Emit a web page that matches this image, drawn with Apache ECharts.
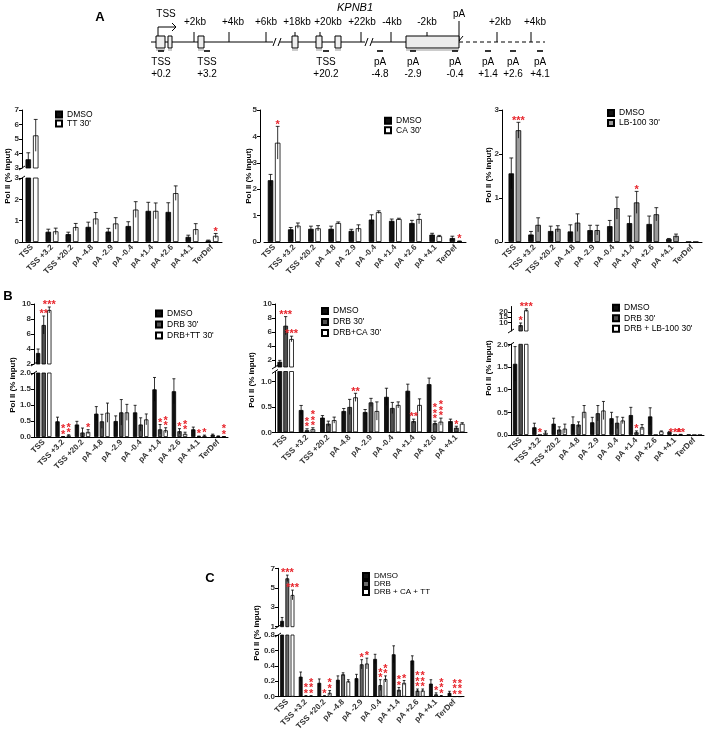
<!DOCTYPE html>
<html>
<head>
<meta charset="utf-8">
<script src="https://cdn.jsdelivr.net/npm/echarts@6.0.0/dist/echarts.min.js"></script>
<style>
  * { margin: 0; padding: 0; }
  #main { width: 708px; height: 733px; background: #fff; }
</style>
</head>
<body>
<div id="main"></div>
<script>
var FONT = '"Liberation Sans", Arial, sans-serif';

// amplicons
var cats = ['TSS', 'TSS +3.2', 'TSS +20.2', 'pA -4.8', 'pA -2.9', 'pA -0.4', 'pA +1.4', 'pA +2.6', 'pA +4.1', 'TerDef'];
var cats9 = cats.slice(0, 9);
var none = ['', '', '', '', '', '', '', '', '', ''];

// A: DMSO vs TT
var a1Dmso = [3.6, 0.48, 0.37, 0.71, 0.49, 0.75, 1.46, 1.41, 0.24, 0.07];
var a1DmsoSem = [0.45, 0.12, 0.09, 0.22, 0.15, 0.2, 0.4, 0.43, 0.08, 0.02];
var a1Tt = [5.25, 0.5, 0.7, 1.1, 0.87, 1.52, 1.46, 2.29, 0.6, 0.29];
var a1TtSem = [1.1, 0.15, 0.17, 0.28, 0.27, 0.37, 0.37, 0.34, 0.26, 0.11];
var a1TtSig = ['', '', '', '', '', '', '', '', '', '*'];

// A: DMSO vs CA
var a2Dmso = [2.34, 0.48, 0.5, 0.5, 0.42, 0.85, 0.8, 0.72, 0.28, 0.15];
var a2DmsoSem = [0.22, 0.07, 0.1, 0.1, 0.06, 0.18, 0.07, 0.1, 0.05, 0.07];
var a2Ca = [3.76, 0.62, 0.52, 0.72, 0.52, 1.13, 0.87, 0.87, 0.22, 0.03];
var a2CaSem = [0.62, 0.1, 0.1, 0.04, 0.13, 0.05, 0.03, 0.18, 0.03, 0.01];
var a2CaSig = ['*', '', '', '', '', '', '', '', '', '*'];

// A: DMSO vs LB-100
var a3Dmso = [1.56, 0.17, 0.25, 0.24, 0.27, 0.36, 0.43, 0.41, 0.07, 0.005];
var a3DmsoSem = [0.35, 0.07, 0.11, 0.15, 0.11, 0.13, 0.16, 0.18, 0.01, 0];
var a3Lb = [2.54, 0.39, 0.3, 0.44, 0.27, 0.77, 0.9, 0.63, 0.14, 0.003];
var a3LbSem = [0.18, 0.16, 0.07, 0.2, 0.11, 0.25, 0.25, 0.15, 0.04, 0];
var a3LbSig = ['***', '', '', '', '', '', '*', '', '', ''];

// B: DMSO / DRB / DRB+TT
var b1Dmso = [3.47, 0.49, 0.39, 0.73, 0.5, 0.77, 1.49, 1.43, 0.24, 0.07];
var b1DmsoSem = [0.53, 0.13, 0.1, 0.22, 0.16, 0.22, 0.37, 0.39, 0.07, 0.02];
var b1Drb = [7.2, 0.01, 0.14, 0.49, 0.77, 0.39, 0.24, 0.18, 0.02, 0.03];
var b1DrbSem = [1.2, 0.005, 0.14, 0.22, 0.4, 0.21, 0.15, 0.08, 0.01, 0.005];
var b1Tt = [9.2, 0.05, 0.16, 0.76, 0.77, 0.55, 0.21, 0.1, 0.04, 0.01];
var b1TtSem = [0.4, 0.02, 0.07, 0.3, 0.25, 0.17, 0.08, 0.05, 0.02, 0.005];
var b1DrbSig = ['**', '*\n*', '', '', '', '', '*', '*', '*', ''];
var b1TtSig = ['***', '*\n*', '*', '', '', '', '*\n*', '*\n*', '*', '*\n*'];

// B: DMSO / DRB / DRB+CA
var b2Dmso = [1.75, 0.44, 0.29, 0.42, 0.4, 0.7, 0.82, 0.95, 0.22];
var b2DmsoSem = [0.2, 0.09, 0.04, 0.05, 0.05, 0.17, 0.13, 0.12, 0.04];
var b2Drb = [6.9, 0.04, 0.17, 0.5, 0.59, 0.48, 0.22, 0.18, 0.09];
var b2DrbSem = [1.3, 0.03, 0.05, 0.15, 0.08, 0.11, 0.04, 0.04, 0.03];
var b2Ca = [5.0, 0.06, 0.24, 0.69, 0.42, 0.54, 0.54, 0.21, 0.17];
var b2CaSem = [0.4, 0.03, 0.06, 0.08, 0.18, 0.06, 0.12, 0.07, 0.02];
var b2DrbSig = ['***', '*\n*', '', '', '', '', '**', '*\n*\n*', '*'];
var b2CaSig = ['***', '*\n*\n*', '', '**', '', '', '', '*\n*\n*', ''];

// B: DMSO / DRB / DRB+LB-100
var b3Dmso = [1.57, 0.17, 0.25, 0.24, 0.28, 0.37, 0.44, 0.41, 0.07, 0.01];
var b3DmsoSem = [0.38, 0.09, 0.12, 0.16, 0.11, 0.13, 0.17, 0.19, 0.01, 0];
var b3Drb = [7.5, 0.003, 0.12, 0.23, 0.48, 0.27, 0.06, 0.002, 0.005, 0.001];
var b3DrbSem = [2, 0, 0.06, 0.06, 0.17, 0.13, 0.03, 0, 0, 0];
var b3Lb = [21.5, 0.05, 0.14, 0.51, 0.54, 0.32, 0.17, 0.08, 0.01, 0.002];
var b3LbSem = [1.3, 0.04, 0.1, 0.14, 0.2, 0.07, 0.06, 0.01, 0.005, 0];
var b3DrbSig = ['*', '*', '', '', '', '', '*', '', '***', ''];
var b3LbSig = ['***', '', '', '', '', '', '', '', '**', ''];

// C: DMSO / DRB / DRB+CA+TT
var cDmso = [1.6, 0.26, 0.18, 0.22, 0.24, 0.49, 0.55, 0.47, 0.17, 0.05];
var cDmsoSem = [0.35, 0.06, 0.05, 0.05, 0.05, 0.06, 0.11, 0.06, 0.05, 0.02];
var cDrb = [5.97, 0.01, 0.01, 0.29, 0.42, 0.15, 0.09, 0.08, 0.03, 0.003];
var cDrbSem = [0.33, 0.003, 0.003, 0.02, 0.06, 0.07, 0.03, 0.02, 0.02, 0];
var cMix = [4.26, 0.01, 0.05, 0.2, 0.43, 0.23, 0.18, 0.08, 0.01, 0.003];
var cMixSem = [0.5, 0.003, 0.03, 0.02, 0.07, 0.04, 0.03, 0.02, 0.005, 0];
var cDrbSig = ['***', '*\n*', '*', '', '*', '*\n*', '*\n*', '*\n*\n*', '*', '*\n*\n*'];
var cMixSig = ['***', '*\n*\n*', '*\n*', '', '*', '*\n*', '*', '*\n*\n*', '*\n*\n*', '*\n*\n*'];

// gene schematic labels
var geneTopText = ['+2kb', '+4kb', '+6kb', '+18kb', '+20kb', '+22kb', '-4kb', '-2kb', '+2kb', '+4kb'];
var geneTopX = [195, 233, 266, 297, 328, 362, 392, 427, 500, 535];
var geneTickX = [194, 229, 266, 295, 320, 361, 391, 427, 497, 531];
var geneRow1 = ['TSS', 'TSS', 'TSS', 'pA', 'pA', 'pA', 'pA', 'pA', 'pA'];
var geneRow2 = ['+0.2', '+3.2', '+20.2', '-4.8', '-2.9', '-0.4', '+1.4', '+2.6', '+4.1'];
var geneAmpX = [161, 207, 326, 380, 413, 455, 488, 513, 540];
var geneExons = [[156, 165], [168, 172], [198, 204], [292, 298], [316, 322], [335, 341]];

var option = {
  animation: false,
  backgroundColor: '#fff',
  textStyle: { fontFamily: FONT },
  grid: [], xAxis: [], yAxis: [], series: [], legend: [], graphic: []
};

function makeRender(p, k, s, part, lowMax, step) {
  var off = (s - (p.names.length - 1) / 2) * step;
  var sig = p.sigs[s];
  return function (params, api) {
    var v = api.value(1), e = api.value(2);
    var up = p.parts.length > 1 && v > lowMax;
    if ((k === 1) !== up) return null;
    var x = api.coord([api.value(0), v])[0] + off;
    var yTop = api.coord([0, v + e])[1];
    var yBot = api.coord([0, Math.max(v - e, part.min)])[1];
    var cap = p.barWidth * 0.35;
    var children = [];
    if (e > 0) {
      children.push({ type: 'line', shape: { x1: x, y1: yBot, x2: x, y2: yTop }, style: { stroke: '#000', lineWidth: 0.8 } });
      children.push({ type: 'line', shape: { x1: x - cap, y1: yTop, x2: x + cap, y2: yTop }, style: { stroke: '#000', lineWidth: 0.8 } });
    }
    var t = sig[params.dataIndex];
    if (t) {
      children.push({ type: 'text', x: x, y: yTop + 1, style: { text: t, fill: '#e8262d', font: 'bold 11px ' + FONT, align: 'center', verticalAlign: 'bottom', lineHeight: 5.5 } });
    }
    return { type: 'group', children: children };
  };
}

function addPanel(p) {
  var n = p.names.length;
  var lowMax = p.parts[0].max;
  var step = p.barWidth * (1 + p.barGap);
  p.parts.forEach(function (part, k) {
    var gi = option.grid.length;
    option.grid.push({ left: p.left, top: part.top, width: p.width, height: part.bottom - part.top, outerBoundsMode: 'none', containLabel: false });
    option.xAxis.push({
      gridIndex: gi, type: 'category', data: p.cats, show: k === 0,
      axisLine: { lineStyle: { color: '#000', width: 1 } },
      axisTick: { alignWithLabel: true, length: 3, lineStyle: { color: '#000' } },
      axisLabel: { interval: 0, rotate: 45, fontSize: 8, fontWeight: 'bold', color: '#333', margin: 4, fontFamily: FONT }
    });
    option.yAxis.push({
      gridIndex: gi, type: 'value', min: part.min, max: part.max, offset: p.yOffset || 0,
      splitLine: { show: false },
      axisLine: { show: true, lineStyle: { color: '#000', width: 1 } },
      axisTick: { show: true, length: 3, customValues: part.ticks, lineStyle: { color: '#000' } },
      axisLabel: {
        customValues: part.ticks, fontSize: 8, fontWeight: 'bold', color: '#333', margin: 3, fontFamily: FONT,
        formatter: function (v) { return Number(v).toFixed(part.dec); }
      }
    });
    for (var s = 0; s < n; s++) {
      option.series.push({
        type: 'bar', name: p.names[s], xAxisIndex: gi, yAxisIndex: gi,
        data: p.means[s].map(function (v) { return (k === 0 || v > lowMax) ? v : '-'; }),
        barWidth: p.barWidth, barGap: (p.barGap * 100) + '%', clip: true, silent: true,
        itemStyle: { color: p.colors[s], borderColor: '#000', borderWidth: 0.8 }
      });
    }
    for (var j = 0; j < n; j++) {
      option.series.push({
        type: 'custom', xAxisIndex: gi, yAxisIndex: gi, silent: true, clip: false, z: 5,
        data: p.means[j].map(function (v, i) { return [i, v, p.sems[j][i]]; }),
        renderItem: makeRender(p, k, j, part, lowMax, step)
      });
    }
  });
  option.legend.push({
    data: p.names, left: p.legend.left, top: p.legend.top, orient: 'vertical', padding: 0,
    itemWidth: 6, itemHeight: 6, itemGap: 0, icon: 'rect', selectedMode: false,
    textStyle: { fontSize: p.legend.size || 8.5, color: '#000', lineHeight: p.legend.row, fontFamily: FONT }
  });
  option.graphic.push({
    type: 'text', x: p.nameX, y: p.nameY, rotation: Math.PI / 2,
    style: { text: 'Pol II (% input)', font: 'bold 8px ' + FONT, fill: '#000', align: 'center', verticalAlign: 'middle' }
  });
  if (p.parts.length > 1) {
    var ax = p.left - (p.yOffset || 0);
    [p.parts[1].bottom, p.parts[0].top].forEach(function (y) {
      option.graphic.push({ type: 'line', shape: { x1: ax - 3, y1: y + 2, x2: ax + 3, y2: y - 2 }, style: { stroke: '#000', lineWidth: 1 } });
    });
  }
}

var panels = [
  { left: 22, width: 200, cats: cats, names: ['DMSO', "TT 30'"], means: [a1Dmso, a1Tt], sems: [a1DmsoSem, a1TtSem],
    sigs: [none, a1TtSig], colors: ['#111', '#fff'], barWidth: 5.5, barGap: 0.35,
    parts: [{ top: 178, bottom: 242, min: 0, max: 3, ticks: [0, 1, 2, 3], dec: 0 },
            { top: 110, bottom: 168, min: 3, max: 7, ticks: [3, 4, 5, 6, 7], dec: 0 }],
    legend: { left: 55, top: 110, row: 9 }, nameX: 8, nameY: 176 },
  { left: 264, width: 202, yOffset: 4, cats: cats, names: ['DMSO', "CA 30'"], means: [a2Dmso, a2Ca], sems: [a2DmsoSem, a2CaSem],
    sigs: [none, a2CaSig], colors: ['#111', '#fff'], barWidth: 5.5, barGap: 0.3,
    parts: [{ top: 110, bottom: 242, min: 0, max: 5, ticks: [0, 1, 2, 3, 4, 5], dec: 0 }],
    legend: { left: 384, top: 116, row: 9.5 }, nameX: 249, nameY: 176 },
  { left: 505, width: 197, yOffset: 3, cats: cats, names: ['DMSO', "LB-100 30'"], means: [a3Dmso, a3Lb], sems: [a3DmsoSem, a3LbSem],
    sigs: [none, a3LbSig], colors: ['#111', '#9a9a9a'], barWidth: 5.5, barGap: 0.3,
    parts: [{ top: 110, bottom: 242, min: 0, max: 3, ticks: [0, 1, 2, 3], dec: 0 }],
    legend: { left: 607, top: 108, row: 10 }, nameX: 489, nameY: 175 },
  { left: 34, width: 194, cats: cats, names: ['DMSO', "DRB 30'", "DRB+TT 30'"], means: [b1Dmso, b1Drb, b1Tt], sems: [b1DmsoSem, b1DrbSem, b1TtSem],
    sigs: [none, b1DrbSig, b1TtSig], colors: ['#111', '#505050', '#fff'], barWidth: 4.3, barGap: 0.3,
    parts: [{ top: 373, bottom: 437, min: 0, max: 2, ticks: [0, 0.5, 1, 1.5, 2], dec: 1 },
            { top: 304, bottom: 364, min: 2, max: 10, ticks: [2, 4, 6, 8, 10], dec: 0 }],
    legend: { left: 155, top: 308, row: 11 }, nameX: 13, nameY: 385 },
  { left: 275, width: 192, cats: cats9, names: ['DMSO', "DRB 30'", "DRB+CA 30'"], means: [b2Dmso, b2Drb, b2Ca], sems: [b2DmsoSem, b2DrbSem, b2CaSem],
    sigs: [none, b2DrbSig, b2CaSig], colors: ['#111', '#505050', '#fff'], barWidth: 4.7, barGap: 0.25,
    parts: [{ top: 371.5, bottom: 432.3, min: 0, max: 1.2, ticks: [0, 0.5, 1], dec: 1 },
            { top: 304, bottom: 367, min: 1, max: 10, ticks: [2, 4, 6, 8, 10], dec: 0 }],
    legend: { left: 321, top: 305.5, row: 11 }, nameX: 252, nameY: 380 },
  { left: 511, width: 193, cats: cats, names: ['DMSO', "DRB 30'", "DRB + LB-100 30'"], means: [b3Dmso, b3Drb, b3Lb], sems: [b3DmsoSem, b3DrbSem, b3LbSem],
    sigs: [none, b3DrbSig, b3LbSig], colors: ['#111', '#505050', '#fff'], barWidth: 4.3, barGap: 0.3,
    parts: [{ top: 344.3, bottom: 435, min: 0, max: 2, ticks: [0, 0.5, 1, 1.5, 2], dec: 1 },
            { top: 306.5, bottom: 331, min: 2, max: 25, ticks: [5, 10, 15, 20, 25], dec: 0 }],
    legend: { left: 612, top: 302.5, row: 10.5 }, nameX: 489, nameY: 368 },
  { left: 278, width: 186, cats: cats, names: ['DMSO', 'DRB', 'DRB + CA + TT'], means: [cDmso, cDrb, cMix], sems: [cDmsoSem, cDrbSem, cMixSem],
    sigs: [none, cDrbSig, cMixSig], colors: ['#111', '#6a6a6a', '#fff'], barWidth: 3.8, barGap: 0.37,
    parts: [{ top: 635, bottom: 696.7, min: 0, max: 0.8, ticks: [0, 0.2, 0.4, 0.6, 0.8], dec: 1 },
            { top: 568.3, bottom: 626.7, min: 1, max: 7, ticks: [1, 3, 5, 7], dec: 0 }],
    legend: { left: 362, top: 572, row: 8, size: 8 }, nameX: 257, nameY: 633 }
];
panels.forEach(addPanel);

// panel letters and gene schematic
function txt(x, y, s, font, align) {
  option.graphic.push({ type: 'text', x: x, y: y, style: { text: s, font: font, fill: '#000', align: align || 'center', verticalAlign: 'middle' } });
}
function seg(x1, y1, x2, y2, w, dash) {
  option.graphic.push({ type: 'line', shape: { x1: x1, y1: y1, x2: x2, y2: y2 }, style: { stroke: '#000', lineWidth: w || 1, lineDash: dash || null } });
}
txt(100, 17, 'A', 'bold 13px ' + FONT);
txt(8, 296, 'B', 'bold 13px ' + FONT);
txt(210, 578, 'C', 'bold 13px ' + FONT);
txt(355, 8, 'KPNB1', 'italic 11px ' + FONT);

var lineY = 42;
seg(151, lineY, 273, lineY);
seg(280, lineY, 365, lineY);
seg(372, lineY, 459, lineY);
seg(459, lineY, 545, lineY, 1, [4, 3]);
[[274, 280], [366, 372]].forEach(function (b) {
  seg(b[0] - 1, lineY + 4, b[0] + 2, lineY - 4);
  seg(b[1] - 2, lineY + 4, b[1] + 1, lineY - 4);
});
geneTickX.forEach(function (x) { seg(x, lineY - 10, x, lineY); });
geneTopText.forEach(function (s, i) { txt(geneTopX[i], 22, s, '10px ' + FONT); });
txt(166, 14, 'TSS', '10px ' + FONT);
txt(459, 14, 'pA', '10px ' + FONT);
// TSS arrow
seg(158, 36, 158, 27);
seg(158, 27, 176, 27);
seg(172, 23, 176, 27);
seg(172, 31, 176, 27);
// pA arrow
seg(459, 21, 459, 41);
seg(455, 36, 459, 41);
seg(463, 36, 459, 41);
geneExons.forEach(function (b) {
  option.graphic.push({ type: 'rect', shape: { x: b[0], y: lineY - 6, width: b[1] - b[0], height: 12 }, style: { fill: '#eee', stroke: '#000', lineWidth: 1 } });
  option.graphic.push({ type: 'rect', shape: { x: b[0], y: lineY + 7, width: b[1] - b[0], height: 2 }, style: { fill: '#ccc' } });
});
option.graphic.push({ type: 'rect', shape: { x: 406, y: lineY - 6, width: 53, height: 12 }, style: { fill: '#ececec', stroke: '#000', lineWidth: 1 } });
option.graphic.push({ type: 'rect', shape: { x: 406, y: lineY + 7, width: 53, height: 2 }, style: { fill: '#ccc' } });
geneAmpX.forEach(function (x, i) {
  seg(x - 3, 51, x + 3, 51, 1.6);
  txt(x, 62, geneRow1[i], '10px ' + FONT);
  txt(x, 74, geneRow2[i], '10px ' + FONT);
});

var myChart = echarts.init(document.getElementById('main'));
myChart.setOption(option);
</script>
</body>
</html>
